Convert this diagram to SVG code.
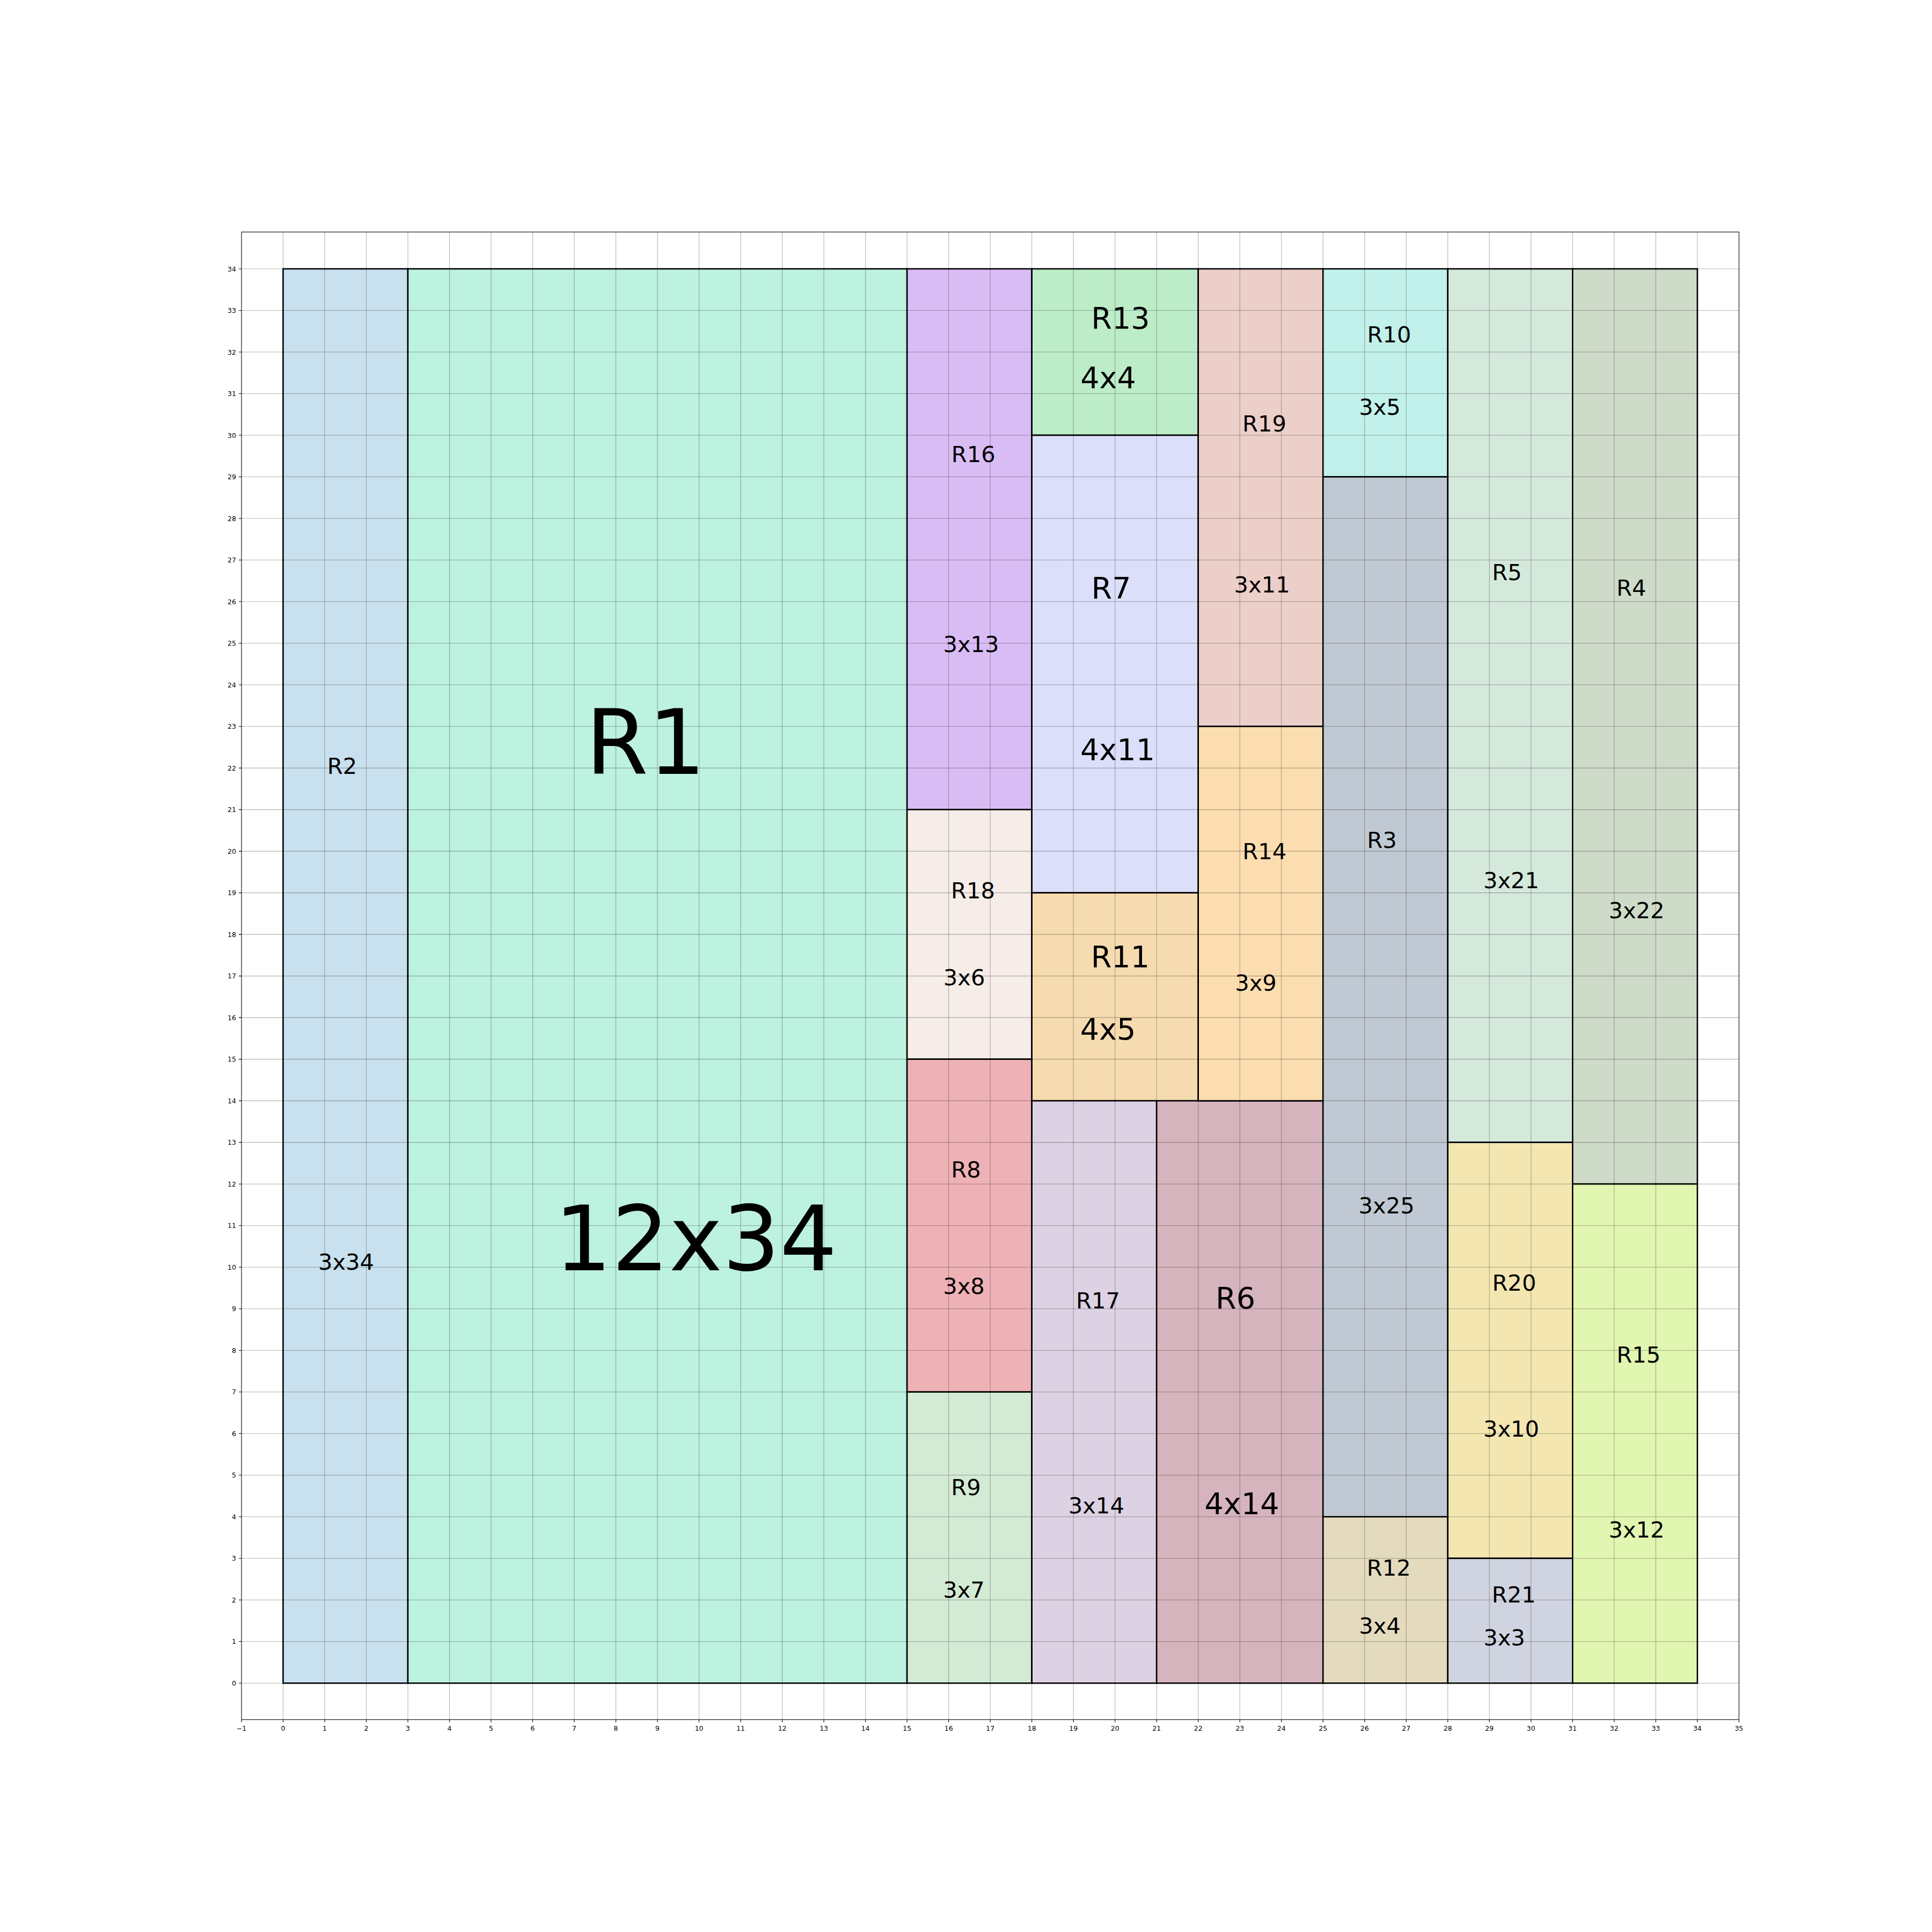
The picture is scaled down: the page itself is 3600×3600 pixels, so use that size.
<svg xmlns="http://www.w3.org/2000/svg" width="3600" height="3600" viewBox="0 0 3600 3600">
<style>
.r{stroke:#000;stroke-width:2.6}
text{font-family:"DejaVu Sans","Liberation Sans",sans-serif;fill:#000}
.s{font-size:41.7px;text-anchor:middle}
.m{font-size:55.6px;text-anchor:middle}
.l{font-size:168px;text-anchor:middle}
.tx{font-size:12.5px;text-anchor:middle}
.ty{font-size:12.5px;text-anchor:end}
.grid{stroke:#000;stroke-opacity:0.3;stroke-width:1.1;fill:none}
.tick{stroke:#000;stroke-width:1.1;fill:none}
</style>
<rect width="3600" height="3600" fill="#fff"/>
<g id="R2"><rect class="r" x="527.5" y="500.96" width="232.53" height="2635.34" fill="#c9e0ee"/><text class="s" x="637.5" y="1442">R2</text><text class="s" x="645" y="2366">3x34</text></g>
<g id="R1"><rect class="r" x="760.03" y="500.96" width="930.12" height="2635.34" fill="#bdf1e0"/><text class="l" x="1203" y="1442">R1</text><text class="l" x="1296.5" y="2367">12x34</text></g>
<g id="R16"><rect class="r" x="1690.15" y="500.96" width="232.53" height="1007.63" fill="#dabcf5"/><text class="s" x="1813.7" y="861">R16</text><text class="s" x="1809.5" y="1214.6">3x13</text></g>
<g id="R18"><rect class="r" x="1690.15" y="1508.59" width="232.53" height="465.06" fill="#f6ede8"/><text class="s" x="1813" y="1674">R18</text><text class="s" x="1796.7" y="1836">3x6</text></g>
<g id="R8"><rect class="r" x="1690.15" y="1973.65" width="232.53" height="620.08" fill="#eeb2b6"/><text class="s" x="1800" y="2193.7">R8</text><text class="s" x="1796" y="2411.4">3x8</text></g>
<g id="R9"><rect class="r" x="1690.15" y="2593.73" width="232.53" height="542.57" fill="#d3ead4"/><text class="s" x="1800" y="2786.4">R9</text><text class="s" x="1796" y="2977.3">3x7</text></g>
<g id="R13"><rect class="r" x="1922.68" y="500.96" width="310.04" height="310.04" fill="#bdecc9"/><text class="m" x="2088" y="612">R13</text><text class="m" x="2065" y="722.6">4x4</text></g>
<g id="R7"><rect class="r" x="1922.68" y="811" width="310.04" height="852.61" fill="#dbdff9"/><text class="m" x="2070.5" y="1115.3">R7</text><text class="m" x="2082.5" y="1416">4x11</text></g>
<g id="R11"><rect class="r" x="1922.68" y="1663.61" width="310.04" height="387.55" fill="#f6dbb0"/><text class="m" x="2087.4" y="1801.7">R11</text><text class="m" x="2064.5" y="1937.3">4x5</text></g>
<g id="R17"><rect class="r" x="1922.68" y="2051.16" width="232.53" height="1085.14" fill="#dcd2e3"/><text class="s" x="2046" y="2438.2">R17</text><text class="s" x="2042.8" y="2819.9">3x14</text></g>
<g id="R6"><rect class="r" x="2155.21" y="2051.16" width="310.04" height="1085.14" fill="#d6b4bd"/><text class="m" x="2302" y="2438.2">R6</text><text class="m" x="2314" y="2821.2">4x14</text></g>
<g id="R19"><rect class="r" x="2232.72" y="500.96" width="232.53" height="852.61" fill="#eccfc9"/><text class="s" x="2356" y="804">R19</text><text class="s" x="2351.6" y="1103.6">3x11</text></g>
<g id="R14"><rect class="r" x="2232.72" y="1353.57" width="232.53" height="697.59" fill="#fcddb0"/><text class="s" x="2356.3" y="1601.3">R14</text><text class="s" x="2340" y="1846">3x9</text></g>
<g id="R10"><rect class="r" x="2465.25" y="500.96" width="232.53" height="387.55" fill="#c1f1ea"/><text class="s" x="2588.5" y="638">R10</text><text class="s" x="2571" y="773.3">3x5</text></g>
<g id="R3"><rect class="r" x="2465.25" y="888.51" width="232.53" height="1937.75" fill="#c0c9d3"/><text class="s" x="2575" y="1580">R3</text><text class="s" x="2583.6" y="2260.7">3x25</text></g>
<g id="R12"><rect class="r" x="2465.25" y="2826.26" width="232.53" height="310.04" fill="#e4dbbf"/><text class="s" x="2587.8" y="2935.7">R12</text><text class="s" x="2571" y="3044.2">3x4</text></g>
<g id="R5"><rect class="r" x="2697.78" y="500.96" width="232.53" height="1627.71" fill="#d4e9dc"/><text class="s" x="2808" y="1081.4">R5</text><text class="s" x="2816" y="1654.7">3x21</text></g>
<g id="R20"><rect class="r" x="2697.78" y="2128.67" width="232.53" height="775.1" fill="#f3e6b1"/><text class="s" x="2821.4" y="2405">R20</text><text class="s" x="2816" y="2676.5">3x10</text></g>
<g id="R21"><rect class="r" x="2697.78" y="2903.77" width="232.53" height="232.53" fill="#d0d4e0"/><text class="s" x="2820.7" y="2985.8">R21</text><text class="s" x="2803" y="3065.8">3x3</text></g>
<g id="R4"><rect class="r" x="2930.31" y="500.96" width="232.53" height="1705.22" fill="#cfdbc9"/><text class="s" x="3039.8" y="1110">R4</text><text class="s" x="3049.5" y="1710.5">3x22</text></g>
<g id="R15"><rect class="r" x="2930.31" y="2206.18" width="232.53" height="930.12" fill="#e1f6b1"/><text class="s" x="3053.2" y="2538.6">R15</text><text class="s" x="3049.5" y="2864.8">3x12</text></g>
<g id="grid">
<path class="grid" d="M527.5 432.3V3204.3M605.01 432.3V3204.3M682.52 432.3V3204.3M760.03 432.3V3204.3M837.54 432.3V3204.3M915.05 432.3V3204.3M992.56 432.3V3204.3M1070.07 432.3V3204.3M1147.58 432.3V3204.3M1225.09 432.3V3204.3M1302.6 432.3V3204.3M1380.11 432.3V3204.3M1457.62 432.3V3204.3M1535.13 432.3V3204.3M1612.64 432.3V3204.3M1690.15 432.3V3204.3M1767.66 432.3V3204.3M1845.17 432.3V3204.3M1922.68 432.3V3204.3M2000.19 432.3V3204.3M2077.7 432.3V3204.3M2155.21 432.3V3204.3M2232.72 432.3V3204.3M2310.23 432.3V3204.3M2387.74 432.3V3204.3M2465.25 432.3V3204.3M2542.76 432.3V3204.3M2620.27 432.3V3204.3M2697.78 432.3V3204.3M2775.29 432.3V3204.3M2852.8 432.3V3204.3M2930.31 432.3V3204.3M3007.82 432.3V3204.3M3085.33 432.3V3204.3M3162.84 432.3V3204.3"/>
<path class="grid" d="M450 3136.3H3240.35M450 3058.79H3240.35M450 2981.28H3240.35M450 2903.77H3240.35M450 2826.26H3240.35M450 2748.75H3240.35M450 2671.24H3240.35M450 2593.73H3240.35M450 2516.22H3240.35M450 2438.71H3240.35M450 2361.2H3240.35M450 2283.69H3240.35M450 2206.18H3240.35M450 2128.67H3240.35M450 2051.16H3240.35M450 1973.65H3240.35M450 1896.14H3240.35M450 1818.63H3240.35M450 1741.12H3240.35M450 1663.61H3240.35M450 1586.1H3240.35M450 1508.59H3240.35M450 1431.08H3240.35M450 1353.57H3240.35M450 1276.06H3240.35M450 1198.55H3240.35M450 1121.04H3240.35M450 1043.53H3240.35M450 966.02H3240.35M450 888.51H3240.35M450 811H3240.35M450 733.49H3240.35M450 655.98H3240.35M450 578.47H3240.35M450 500.96H3240.35"/>
</g>
<g id="axes">
<rect x="450" y="432.3" width="2790.35" height="2772" fill="none" stroke="#000" stroke-width="1.1"/>
<path class="tick" d="M450 3204.3v4.9M527.5 3204.3v4.9M605.01 3204.3v4.9M682.52 3204.3v4.9M760.03 3204.3v4.9M837.54 3204.3v4.9M915.05 3204.3v4.9M992.56 3204.3v4.9M1070.07 3204.3v4.9M1147.58 3204.3v4.9M1225.09 3204.3v4.9M1302.6 3204.3v4.9M1380.11 3204.3v4.9M1457.62 3204.3v4.9M1535.13 3204.3v4.9M1612.64 3204.3v4.9M1690.15 3204.3v4.9M1767.66 3204.3v4.9M1845.17 3204.3v4.9M1922.68 3204.3v4.9M2000.19 3204.3v4.9M2077.7 3204.3v4.9M2155.21 3204.3v4.9M2232.72 3204.3v4.9M2310.23 3204.3v4.9M2387.74 3204.3v4.9M2465.25 3204.3v4.9M2542.76 3204.3v4.9M2620.27 3204.3v4.9M2697.78 3204.3v4.9M2775.29 3204.3v4.9M2852.8 3204.3v4.9M2930.31 3204.3v4.9M3007.82 3204.3v4.9M3085.33 3204.3v4.9M3162.84 3204.3v4.9M3240.35 3204.3v4.9"/>
<path class="tick" d="M450 3136.3h-4.9M450 3058.79h-4.9M450 2981.28h-4.9M450 2903.77h-4.9M450 2826.26h-4.9M450 2748.75h-4.9M450 2671.24h-4.9M450 2593.73h-4.9M450 2516.22h-4.9M450 2438.71h-4.9M450 2361.2h-4.9M450 2283.69h-4.9M450 2206.18h-4.9M450 2128.67h-4.9M450 2051.16h-4.9M450 1973.65h-4.9M450 1896.14h-4.9M450 1818.63h-4.9M450 1741.12h-4.9M450 1663.61h-4.9M450 1586.1h-4.9M450 1508.59h-4.9M450 1431.08h-4.9M450 1353.57h-4.9M450 1276.06h-4.9M450 1198.55h-4.9M450 1121.04h-4.9M450 1043.53h-4.9M450 966.02h-4.9M450 888.51h-4.9M450 811h-4.9M450 733.49h-4.9M450 655.98h-4.9M450 578.47h-4.9M450 500.96h-4.9"/>
<text class="tx" x="450" y="3225">−1</text><text class="tx" x="527.5" y="3225">0</text><text class="tx" x="605.01" y="3225">1</text><text class="tx" x="682.52" y="3225">2</text><text class="tx" x="760.03" y="3225">3</text><text class="tx" x="837.54" y="3225">4</text><text class="tx" x="915.05" y="3225">5</text><text class="tx" x="992.56" y="3225">6</text><text class="tx" x="1070.07" y="3225">7</text><text class="tx" x="1147.58" y="3225">8</text><text class="tx" x="1225.09" y="3225">9</text><text class="tx" x="1302.6" y="3225">10</text><text class="tx" x="1380.11" y="3225">11</text><text class="tx" x="1457.62" y="3225">12</text><text class="tx" x="1535.13" y="3225">13</text><text class="tx" x="1612.64" y="3225">14</text><text class="tx" x="1690.15" y="3225">15</text><text class="tx" x="1767.66" y="3225">16</text><text class="tx" x="1845.17" y="3225">17</text><text class="tx" x="1922.68" y="3225">18</text><text class="tx" x="2000.19" y="3225">19</text><text class="tx" x="2077.7" y="3225">20</text><text class="tx" x="2155.21" y="3225">21</text><text class="tx" x="2232.72" y="3225">22</text><text class="tx" x="2310.23" y="3225">23</text><text class="tx" x="2387.74" y="3225">24</text><text class="tx" x="2465.25" y="3225">25</text><text class="tx" x="2542.76" y="3225">26</text><text class="tx" x="2620.27" y="3225">27</text><text class="tx" x="2697.78" y="3225">28</text><text class="tx" x="2775.29" y="3225">29</text><text class="tx" x="2852.8" y="3225">30</text><text class="tx" x="2930.31" y="3225">31</text><text class="tx" x="3007.82" y="3225">32</text><text class="tx" x="3085.33" y="3225">33</text><text class="tx" x="3162.84" y="3225">34</text><text class="tx" x="3240.35" y="3225">35</text>
<text class="ty" x="440" y="3140.8">0</text><text class="ty" x="440" y="3063.3">1</text><text class="ty" x="440" y="2985.8">2</text><text class="ty" x="440" y="2908.3">3</text><text class="ty" x="440" y="2830.8">4</text><text class="ty" x="440" y="2753.2">5</text><text class="ty" x="440" y="2675.7">6</text><text class="ty" x="440" y="2598.2">7</text><text class="ty" x="440" y="2520.7">8</text><text class="ty" x="440" y="2443.2">9</text><text class="ty" x="440" y="2365.7">10</text><text class="ty" x="440" y="2288.2">11</text><text class="ty" x="440" y="2210.7">12</text><text class="ty" x="440" y="2133.2">13</text><text class="ty" x="440" y="2055.7">14</text><text class="ty" x="440" y="1978.1">15</text><text class="ty" x="440" y="1900.6">16</text><text class="ty" x="440" y="1823.1">17</text><text class="ty" x="440" y="1745.6">18</text><text class="ty" x="440" y="1668.1">19</text><text class="ty" x="440" y="1590.6">20</text><text class="ty" x="440" y="1513.1">21</text><text class="ty" x="440" y="1435.6">22</text><text class="ty" x="440" y="1358.1">23</text><text class="ty" x="440" y="1280.6">24</text><text class="ty" x="440" y="1203">25</text><text class="ty" x="440" y="1125.5">26</text><text class="ty" x="440" y="1048">27</text><text class="ty" x="440" y="970.5">28</text><text class="ty" x="440" y="893">29</text><text class="ty" x="440" y="815.5">30</text><text class="ty" x="440" y="738">31</text><text class="ty" x="440" y="660.5">32</text><text class="ty" x="440" y="583">33</text><text class="ty" x="440" y="505.5">34</text>
</g>
</svg>
